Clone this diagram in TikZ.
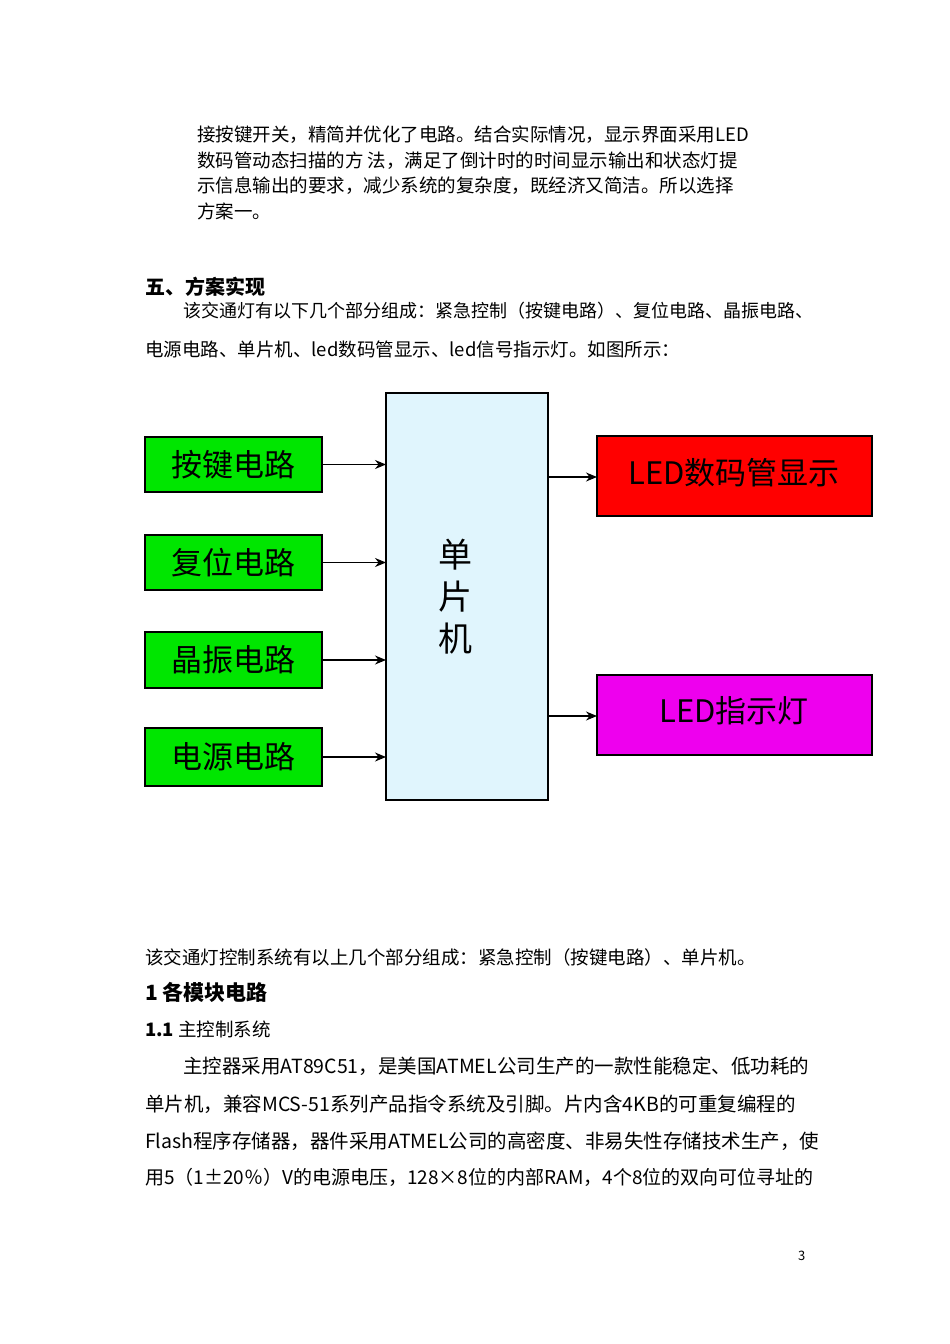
\documentclass[tikz,border=0pt]{standalone}
\usepackage{fontspec}
\setmainfont{Noto Sans CJK SC}
\usetikzlibrary{arrows.meta}
\definecolor{mag}{RGB}{238,0,238}
\definecolor{grn}{RGB}{0,230,0}
\begin{document}
\begin{tikzpicture}[x=1pt,y=-1pt,
 body/.style={anchor=west,inner sep=0pt,font=\fontsize{18.5}{22}\selectfont},
 small/.style={anchor=west,inner sep=0pt,font=\fontsize{18.5}{22}\selectfont},
 arr/.style={-{Stealth[length=11pt,width=9pt]},line width=1.2pt},
 lbl/.style={font=\fontsize{31}{34}\selectfont,inner sep=0pt}]
\useasboundingbox[fill=white] (0,0) rectangle (950,1344);
\node[small] (p1) at (197,135) {接按键开关，精简并优化了电路。结合实际情况，显示界面采用LED};
\node[small] (p2) at (197,161) {数码管动态扫描的方 法，满足了倒计时的时间显示输出和状态灯提};
\node[small] (p3) at (197,186) {示信息输出的要求，减少系统的复杂度，既经济又简洁。所以选择};
\node[small] (p4) at (197,211) {方案一。};
\node[body,font=\fontsize{20}{24}\selectfont\bfseries] (h5) at (145,287) {五、方案实现};
\node[body,font=\fontsize{18}{22}\selectfont] (l1) at (183,311) {该交通灯有以下几个部分组成：紧急控制（按键电路）、复位电路、晶振电路、};
\node[body] (l2) at (145,349) {电源电路、单片机、led数码管显示、led信号指示灯。如图所示：};
% diagram
\draw[line width=1.2pt,fill=cyan!12] (386,393) rectangle (548,800);
\node[font=\fontsize{34}{42}\selectfont,align=center] (mcu) at (455,597) {单\\片\\机};
\foreach \n/\t/\a/\b in {k/按键电路/437/492, r/复位电路/535/590, c/晶振电路/632/688, p/电源电路/728/786}{
  \draw[line width=1.2pt,fill=grn] (145,\a) rectangle (322,\b);
  \node[lbl] (\n) at (233.5,{(\a+\b)/2}) {\t};
  \coordinate (\n o) at (322,{(\a+\b)/2});
  \coordinate (\n i) at (386,{(\a+\b)/2});
  \draw[arr] (\n o) -- (\n i);
}
\draw[line width=1.2pt,fill=red] (597,436) rectangle (872,516);
\node[lbl] (led) at (734,473) {LED数码管显示};
\draw[line width=1.2pt,fill=mag] (597,675) rectangle (872,755);
\node[lbl] (ind) at (734,711) {LED指示灯};
\coordinate (m1) at (548,477); \coordinate (r1) at (597,477);
\coordinate (m2) at (548,716); \coordinate (r2) at (597,716);
\draw[arr] (m1) -- (r1);
\draw[arr] (m2) -- (r2);
% text below
\node[body] (l3) at (145,957) {该交通灯控制系统有以上几个部分组成：紧急控制（按键电路）、单片机。};
\node[body,font=\fontsize{21}{24}\selectfont\bfseries] (h1) at (145,992) {1 各模块电路};
\node[body] (h11) at (145,1029) {\textbf{1.1} 主控制系统};
\node[body,font=\fontsize{19.5}{22}\selectfont] (b1) at (183,1066) {主控器采用AT89C51，是美国ATMEL公司生产的一款性能稳定、低功耗的};
\node[body,font=\fontsize{19.5}{22}\selectfont] (b2) at (145,1104) {单片机，兼容MCS-51系列产品指令系统及引脚。片内含4KB的可重复编程的};
\node[body,font=\fontsize{19.5}{22}\selectfont] (b3) at (145,1141) {Flash程序存储器，器件采用ATMEL公司的高密度、非易失性存储技术生产，使};
\node[body,font=\fontsize{19}{22}\selectfont] (b4) at (145,1177) {用5（1±20％）V的电源电压，128×8位的内部RAM，4个8位的双向可位寻址的};
\node[body,font=\fontsize{13}{15}\selectfont] (pg) at (798,1256) {3};
\end{tikzpicture}
\end{document}
